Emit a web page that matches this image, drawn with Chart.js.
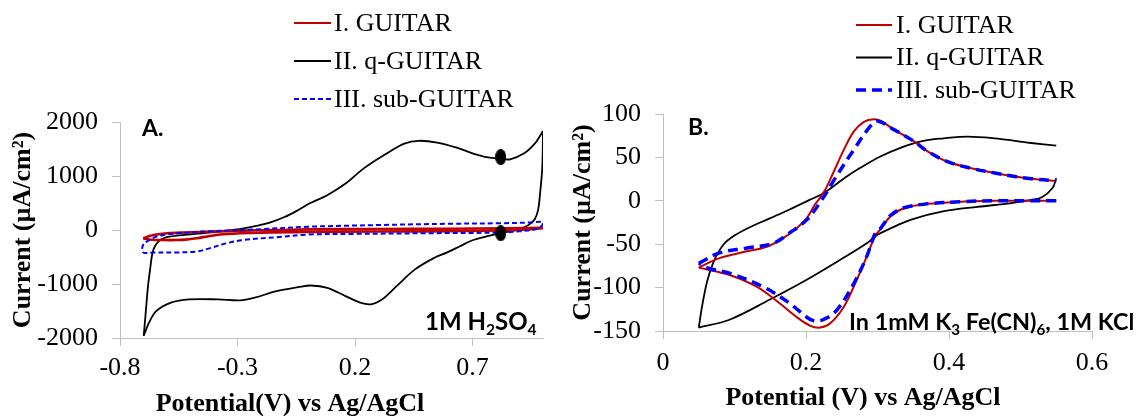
<!DOCTYPE html>
<html>
<head>
<meta charset="utf-8">
<script src="https://cdn.jsdelivr.net/npm/chart.js@4.4.1/dist/chart.umd.min.js"></script>
<style>
  html, body { margin: 0; padding: 0; background: #fff; }
  body { width: 1140px; height: 416px; position: relative; overflow: hidden; }
  .panel { position: absolute; top: 0; width: 570px; height: 416px; }
</style>
</head>
<body>
<div class="panel" style="left:0"><canvas id="cvA" width="570" height="416"></canvas></div>
<div class="panel" style="left:570px"><canvas id="cvB" width="570" height="416"></canvas></div>
<script>
// ---- panel A : CV in 1M H2SO4 (potential V, current uA/cm2) ----
const seriesNames = ['I. GUITAR', 'II. q-GUITAR', 'III. sub-GUITAR'];

const potA_guitar = [-0.701, -0.68, -0.658, -0.60, -0.52, -0.417, -0.275, -0.133, 0.0, 0.3, 0.6, 0.85, 1.0,
  0.95, 0.85, 0.6, 0.3, 0.0, -0.204, -0.346, -0.417, -0.474, -0.52, -0.56, -0.62, -0.665, -0.69, -0.701];
const curA_guitar = [-153, -120, -92, -60, -45, -31, -12, 0, 12, 18, 24, 30, 40,
  15, -5, -20, -28, -35, -49, -73, -110, -153, -178, -186, -186, -180, -168, -153];

const potA_qguitar = [-0.699, -0.690, -0.681, -0.672, -0.665, -0.658, -0.647, -0.637, -0.620, -0.601, -0.55, -0.488,
  -0.42, -0.35, -0.28, -0.22, -0.16, -0.10, -0.05, 0.01, 0.08, 0.16, 0.24, 0.33, 0.41, 0.47, 0.55, 0.63, 0.70,
  0.76, 0.82, 0.86, 0.92, 0.965, 0.99, 1.0,
  0.997, 0.988, 0.979, 0.965, 0.948, 0.92, 0.887, 0.82, 0.76, 0.70, 0.647, 0.59, 0.54, 0.454, 0.377, 0.315,
  0.268, 0.222, 0.160, 0.082, 0.013, -0.042, -0.134, -0.227, -0.289, -0.382, -0.506, -0.583, -0.645, -0.676, -0.699];
const curA_qguitar = [-1958, -1500, -1050, -734, -500, -367, -270, -214, -165, -134, -100, -78,
  -50, -15, 25, 75, 140, 240, 350, 500, 640, 860, 1150, 1405, 1600, 1652, 1620, 1529, 1420,
  1350, 1320, 1310, 1420, 1600, 1760, 1835,
  1162, 700, 367, 200, 123, 50, 0, -60, -120, -190, -300, -420, -510, -734, -1040, -1285,
  -1376, -1345, -1224, -1070, -1028, -1059, -1132, -1253, -1303, -1285, -1285, -1345, -1499, -1712, -1958];

const potA_subguitar = [-0.706, -0.703, -0.695, -0.686, -0.665, -0.644, -0.60, -0.56, -0.42, -0.2, 0.0, 0.3, 0.6,
  0.82, 0.95, 0.995, 1.0,
  0.995, 0.97, 0.9, 0.8, 0.5, 0.2, 0.0, -0.133, -0.275, -0.346, -0.417, -0.474, -0.559, -0.658, -0.69, -0.703, -0.706];
const curA_subguitar = [-350, -290, -240, -214, -160, -122, -85, -62, -25, 15, 60, 92, 115,
  125, 140, 150, 125,
  80, 20, -25, -48, -60, -72, -85, -134, -184, -245, -336, -398, -416, -418, -428, -410, -350];

// marked points on the q-GUITAR loop
const potA_marks = [0.82, 0.82];
const curA_marks = [1350, -60];

const xTicksA = [-0.8, -0.3, 0.2, 0.7];
const yTicksA = [-2000, -1000, 0, 1000, 2000];

// ---- panel B : CV in 1mM K3Fe(CN)6, 1M KCl ----
const potB_guitar = [0.55, 0.515, 0.464, 0.417, 0.37, 0.337, 0.318, 0.304, 0.297, 0.285, 0.271, 0.253, 0.234, 0.22,
  0.206, 0.187, 0.163, 0.131, 0.093, 0.05,
  0.079, 0.116, 0.145, 0.168, 0.187, 0.201, 0.212, 0.225, 0.238, 0.253, 0.267, 0.281, 0.295, 0.305, 0.323,
  0.351, 0.37, 0.398, 0.431, 0.464, 0.492, 0.515, 0.55];
const curB_guitar = [0, 0, 0, -1, -3.5, -8.5, -18, -33, -40, -64, -91, -122, -141, -146,
  -144, -134, -118, -99, -85.5, -77,
  -66, -58.5, -53, -43, -31.5, -20, -5, 10, 32, 59, 80, 91, 94, 92, 82,
  68.5, 57, 45, 37.5, 32, 28, 25.5, 23];

const potB_qguitar = [0.55, 0.545, 0.53, 0.515, 0.487, 0.44, 0.393, 0.346, 0.314, 0.30, 0.285, 0.248, 0.201, 0.149,
  0.093, 0.05,
  0.055, 0.062, 0.072, 0.085, 0.10, 0.12, 0.15, 0.177, 0.205, 0.225, 0.257, 0.276, 0.304, 0.332, 0.361, 0.393,
  0.426, 0.464, 0.497, 0.515, 0.55];
const curB_qguitar = [26, 15, 4, 1, -2.7, -7, -12, -22, -33.5, -39, -49, -68, -91, -114,
  -137, -146,
  -120, -92, -68, -50, -40, -31, -20, -10, 1, 9, 28, 38, 51, 61, 68.5, 72,
  74, 72, 68.5, 66.6, 63.5];

const potB_subguitar = [0.55, 0.464, 0.417, 0.37, 0.337, 0.318, 0.304, 0.297, 0.285, 0.267, 0.243, 0.224, 0.21, 0.201,
  0.177, 0.14, 0.093, 0.065, 0.05,
  0.079, 0.116, 0.154, 0.177, 0.201, 0.222, 0.24, 0.267, 0.29, 0.30, 0.323, 0.351, 0.37, 0.398, 0.431, 0.464,
  0.492, 0.515, 0.55];
const curB_subguitar = [0, 0, -1, -3.5, -8, -17, -32, -37, -64, -95, -126, -137, -138, -134,
  -118, -99, -83.5, -78, -72,
  -60, -54.6, -49, -37, -22, 1, 25, 59, 86, 92, 82, 68.5, 57, 45, 37.5, 32,
  28, 25.5, 23];

const xTicksB = [0, 0.2, 0.4, 0.6];
const yTicksB = [-150, -100, -50, 0, 50, 100];

// ---------------------------------------------------------------
const SERIF = "'Liberation Serif', 'Times New Roman', serif";
const SANS = "Lato, 'Open Sans', sans-serif";
const AXIS_GREY = '#bfbfbf';
const FONT_PX = 26;

// split a CV loop into its sweeps, so each scan reversal stays a sharp vertex
function sweeps(vs, is) {
  const out = [];
  let cur = [{x: vs[0], y: is[0]}];
  let dir = 0;
  for (let k = 1; k < vs.length; k++) {
    const d = Math.sign(vs[k] - vs[k - 1]);
    if (dir !== 0 && d !== 0 && d !== dir) {
      out.push(cur);
      cur = [cur[cur.length - 1]];
    }
    if (d !== 0) dir = d;
    cur.push({x: vs[k], y: is[k]});
  }
  out.push(cur);
  return out;
}

function lineSets(series) {
  const sets = [];
  for (const s of series) {
    for (const part of sweeps(s.v, s.i)) {
      sets.push({
        data: part,
        showLine: true,
        borderColor: s.color,
        borderWidth: s.width,
        borderDash: s.dash || [],
        pointRadius: 0,
        tension: 0.35,
        order: s.order,
      });
    }
  }
  return sets;
}

// legend drawn as a stacked column above the plot
const stackedLegend = {
  id: 'stackedLegend',
  afterDraw(chart, args, opts) {
    const ctx = chart.ctx;
    ctx.save();
    ctx.font = opts.font;
    ctx.textBaseline = 'middle';
    ctx.textAlign = 'left';
    opts.series.forEach((s, row) => {
      const y = opts.y + row * opts.rowGap;
      ctx.beginPath();
      ctx.strokeStyle = s.color;
      ctx.lineWidth = s.legendWidth || s.width;
      ctx.setLineDash(s.legendDash || s.dash || []);
      ctx.moveTo(opts.x, y);
      ctx.lineTo(opts.x + opts.lineLen, y);
      ctx.stroke();
      ctx.setLineDash([]);
      ctx.fillStyle = '#000';
      ctx.fillText(s.name, opts.x + opts.lineLen + opts.gap, y + 1);
    });
    ctx.restore();
  }
};

// panel letter, electrolyte note (with subscripts) and the x-axis caption
const panelNotes = {
  id: 'panelNotes',
  afterDraw(chart, args, opts) {
    const ctx = chart.ctx;
    ctx.save();
    ctx.fillStyle = '#000';
    ctx.textBaseline = 'alphabetic';
    for (const note of opts.items) {
      const fam = note.family || SANS;
      const fontFor = sub => `bold ${sub ? note.size * 0.65 : note.size}px ${fam}`;
      let total = 0;
      for (const [txt, sub] of note.runs) { ctx.font = fontFor(sub); total += ctx.measureText(txt).width; }
      let x = note.center ? note.x - total / 2 : note.x;
      for (const [txt, sub] of note.runs) {
        ctx.font = fontFor(sub);
        ctx.fillText(txt, x, note.y + (sub ? note.size * 0.22 : 0));
        x += ctx.measureText(txt).width;
      }
    }
    ctx.restore();
  }
};

function ellipseMark(w, h) {
  const c = document.createElement('canvas');
  c.width = w; c.height = h;
  const g = c.getContext('2d');
  g.fillStyle = '#000';
  g.beginPath();
  g.ellipse(w / 2, h / 2, w / 2, h / 2, 0, 0, Math.PI * 2);
  g.fill();
  return c;
}

function axisOpts(o) {
  return {
    type: 'linear',
    min: o.min,
    max: o.max,
    afterBuildTicks: s => { s.ticks = o.ticks.map(v => ({value: v})); },
    afterFit: s => { if (s.isHorizontal()) s.height = o.size; else s.width = o.size; },
    grid: { drawOnChartArea: false, drawTicks: true, tickLength: 8, color: AXIS_GREY },
    border: { color: AXIS_GREY, width: 1 },
    ticks: {
      color: '#000',
      padding: o.tickPad,
      font: { family: SERIF, size: FONT_PX, lineHeight: 1 },
      callback: v => String(v),
    },
    title: {
      display: !!o.title,
      text: o.title,
      color: '#000',
      font: { family: SERIF, size: FONT_PX, weight: 'bold', lineHeight: 1 },
      padding: o.titlePad,
    },
  };
}

function makeChart(id, cfg) {
  return new Chart(document.getElementById(id), {
    type: 'scatter',
    data: { datasets: cfg.datasets },
    options: {
      responsive: false,
      animation: false,
      events: [],
      layout: { padding: cfg.padding },
      plugins: {
        legend: { display: false },
        tooltip: { enabled: false },
        stackedLegend: cfg.legend,
        panelNotes: { items: cfg.notes },
      },
      scales: { x: axisOpts(cfg.x), y: axisOpts(cfg.y) },
    },
    plugins: [stackedLegend, panelNotes],
  });
}

// ---- build panel A ----
const seriesA = [
  { name: seriesNames[0], v: potA_guitar, i: curA_guitar, color: '#c00000', width: 2.6, legendWidth: 2, order: 1 },
  { name: seriesNames[1], v: potA_qguitar, i: curA_qguitar, color: '#000000', width: 1.8, order: 2 },
  { name: seriesNames[2], v: potA_subguitar, i: curA_subguitar, color: '#0000ff', width: 2, dash: [5, 3], order: 0 },
];
const marksA = {
  data: potA_marks.map((v, k) => ({x: v, y: curA_marks[k]})),
  showLine: false,
  pointStyle: ellipseMark(11, 16),
  pointRadius: 6,
  order: -1,
};

makeChart('cvA', {
  datasets: lineSets(seriesA).concat([marksA]),
  padding: { left: 0, right: 27, top: 122, bottom: 0 },
  x: { min: -0.8, max: 1.0, ticks: xTicksA, size: 78, tickPad: 9 },
  y: { min: -2000, max: 2000, ticks: yTicksA, size: 120, tickPad: 14,
       title: 'Current (µA/cm²)', titlePad: { top: 10, bottom: 0 } },
  legend: { series: seriesA, x: 294, y: 23, rowGap: 38, lineLen: 37, gap: 3, font: `${FONT_PX}px ${SERIF}` },
  notes: [
    { x: 142, y: 136, size: 23, runs: [['A.', 0]] },
    { x: 425, y: 330, size: 24, runs: [['1M H', 0], ['2', 1], ['SO', 0], ['4', 1]] },
    { x: 290, y: 411, size: FONT_PX, family: SERIF, center: true, runs: [['Potential(V) vs Ag/AgCl', 0]] },
  ],
});

// ---- build panel B ----
const seriesB = [
  { name: seriesNames[0], v: potB_guitar, i: curB_guitar, color: '#c00000', width: 2, order: 1 },
  { name: seriesNames[1], v: potB_qguitar, i: curB_qguitar, color: '#000000', width: 1.8, order: 2 },
  { name: seriesNames[2], v: potB_subguitar, i: curB_subguitar, color: '#0000ff', width: 3.5, dash: [10, 6], order: 0 },
];

makeChart('cvB', {
  datasets: lineSets(seriesB),
  padding: { left: 0, right: 48, top: 114, bottom: 0 },
  x: { min: 0, max: 0.6, ticks: xTicksB, size: 85, tickPad: 11 },
  y: { min: -150, max: 100, ticks: yTicksB, size: 93, tickPad: 14,
       title: 'Current (µA/cm²)', titlePad: { top: 0, bottom: 0 } },
  legend: { series: seriesB, x: 286, y: 25, rowGap: 32.5, lineLen: 36, gap: 4, font: `${FONT_PX}px ${SERIF}` },
  notes: [
    { x: 118, y: 135, size: 23, runs: [['B.', 0]] },
    { x: 279, y: 330, size: 23.4, runs: [['In 1mM K', 0], ['3', 1], [' Fe(CN)', 0], ['6', 1], [', 1M KCl', 0]] },
    { x: 293, y: 405, size: FONT_PX, family: SERIF, center: true, runs: [['Potential (V) vs Ag/AgCl', 0]] },
  ],
});
</script>
</body>
</html>
